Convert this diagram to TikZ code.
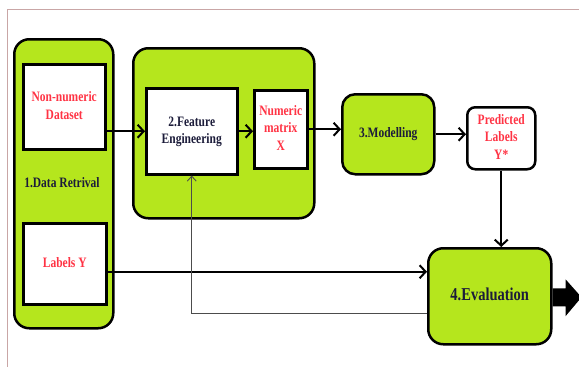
\documentclass[tikz,border=0pt]{standalone}
\usepackage{fontspec}
\usepackage{graphicx}
\setmainfont{Liberation Serif}
\usetikzlibrary{arrows.meta}
\definecolor{lime}{HTML}{B5E61D}
\definecolor{redtxt}{HTML}{FF3344}
\definecolor{navytxt}{HTML}{1C1C3A}
\definecolor{framec}{HTML}{C9A6A6}
\newcommand{\tall}[1]{\scalebox{1}[1.25]{\begin{tabular}{@{}c@{}}#1\end{tabular}}}
\begin{document}
\begin{tikzpicture}[x=1pt,y=-1pt,
  container/.style={draw=black, line width=2.5pt, fill=lime, rounded corners=15pt, inner sep=0pt, anchor=north west},
  wbox/.style={draw=black, line width=2.5pt, fill=white, inner sep=0pt, anchor=north west, align=center,
    font=\bfseries\fontsize{11.5}{14}\selectfont, text=redtxt},
  gbox/.style={draw=black, line width=2.5pt, fill=lime, inner sep=0pt, anchor=north west, align=center,
    font=\bfseries\fontsize{11.5}{14}\selectfont, text=navytxt},
  dtext/.style={font=\bfseries\fontsize{11.5}{14}\selectfont, text=navytxt, align=center},
  flow/.style={line width=2pt, -{Straight Barb[length=6pt,width=13pt,line width=2pt]}},
  back/.style={line width=0.9pt, draw=black!70, -{Straight Barb[length=5pt,width=9pt,line width=0.9pt]}}
]
\useasboundingbox (0,0) rectangle (579,367);
\draw[framec, line width=1pt] (7,367) -- (7,9) -- (579,9);

% containers
\node[container, minimum width=99pt, minimum height=289pt] (dr) at (13,38) {};
\node[container, minimum width=181pt, minimum height=170pt] (fg) at (132,47) {};

% data retrieval
\node[wbox, minimum width=82pt, minimum height=85pt] (nn) at (22,63) {\tall{Non-numeric\\Dataset}};
\node[dtext] (drt) at (62,184) {\tall{1.Data Retrival}};
\node[wbox, minimum width=83pt, minimum height=81pt] (ly) at (22,222) {\tall{Labels Y}};

% feature engineering
\node[wbox, text=navytxt, minimum width=91pt, minimum height=86pt] (fe) at (145,87) {\tall{2.Feature\\Engineering}};
\node[wbox, minimum width=53pt, minimum height=78pt] (nm) at (253,89) {\tall{Numeric\\matrix\\X}};

% modelling / prediction / evaluation
\node[gbox, rounded corners=13pt, minimum width=92pt, minimum height=80pt] (mo) at (341,93) {\tall{3.Modelling}};
\node[wbox, rounded corners=8pt, minimum width=68pt, minimum height=62pt] (pl) at (466,106) {\tall{Predicted\\Labels\\Y*}};
\node[gbox, rounded corners=15pt, minimum width=123pt, minimum height=96pt,
  font=\bfseries\fontsize{14.5}{17}\selectfont] (ev) at (427,247) {\tall{4.Evaluation}};

% helper points
\coordinate (lyout) at ([yshift=-8pt]ly.east);
\coordinate (evback) at ([yshift=-17pt]ev.west);

% connectors
\draw[flow] (nn.east |- fe.west) -- (fe.west);
\draw[flow] (fe.east) -- (nm.west |- fe.east);
\draw[flow] (nm.east) -- (mo.west |- nm.east);
\draw[flow] (mo.east) -- (pl.west |- mo.east);
\draw[flow] (pl.south) -- (ev.north -| pl.south);
\draw[flow] (lyout) -- (ev.west |- lyout);
\draw[back] (evback) -| (fe.south);

% output arrow
\fill[black] ([shift={(0,-8)}]ev.east) -- ++(13,0) -- ++(0,-9) -- ([shift={(29,1)}]ev.east)
  -- ([shift={(13,20)}]ev.east) -- ++(0,-10) -- ([shift={(0,10)}]ev.east) -- cycle;
\end{tikzpicture}
\end{document}
